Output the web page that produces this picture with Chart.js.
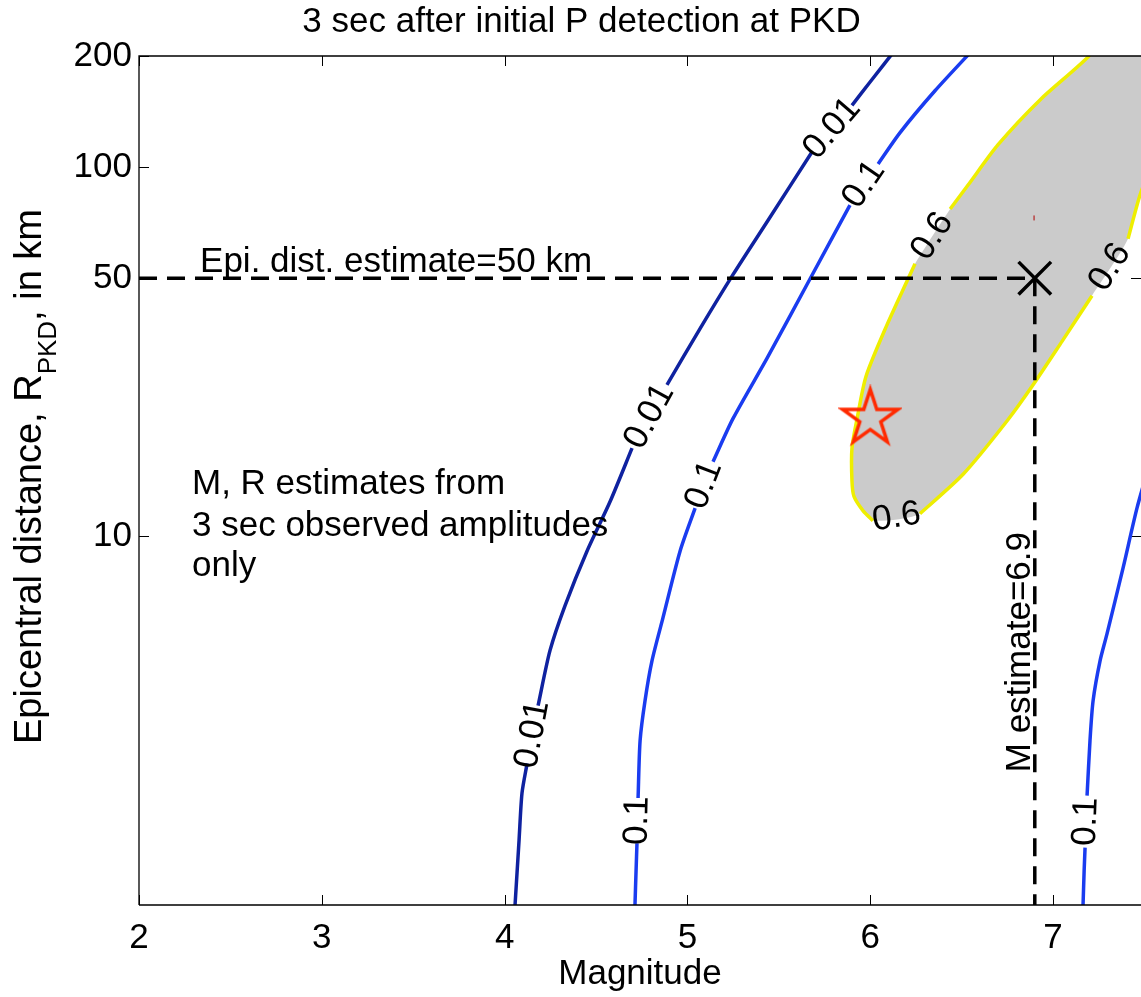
<!DOCTYPE html>
<html>
<head>
<meta charset="utf-8">
<title>3 sec after initial P detection at PKD</title>
<script src="https://cdn.jsdelivr.net/npm/chart.js@4.4.1/dist/chart.umd.min.js"></script>
<style>
  html, body { margin: 0; padding: 0; background: #fff; }
</style>
</head>
<body>
<canvas id="pkdChart" width="1141" height="997"></canvas>
<script>
//#region data
// axis ticks
const magTicks = [2, 3, 4, 5, 6, 7];
const distTicks = [10, 50, 100, 200];

// probability contours, magnitude vs distance (km)
// a null marks the break where MATLAB put the level label
const c001Mag = [4.057, 4.079, 4.095, 4.123, null, 4.183, 4.248, 4.330, 4.451, 4.577, 4.697, null, 4.888, 5.069, 5.249, 5.435, 5.682, null, 5.900, 5.999, 6.150];
const c001Dist = [1.0, 1.50, 2.01, 2.42, null, 3.47, 4.89, 6.47, 9.11, 12.4, 17.3, null, 25.7, 36.5, 51.1, 71.0, 110, null, 147, 170, 212];

const c01Mag = [4.713, 4.719, 4.724, null, 4.730, 4.741, 4.768, 4.806, 4.866, 4.960, 5.042, null, 5.140, 5.249, 5.435, 5.671, 5.889, null, 6.043, 6.163, 6.354, 6.573];
const c01Dist = [1.0, 1.24, 1.47, null, 1.95, 2.79, 3.58, 4.59, 6.00, 9.11, 11.9, null, 15.9, 20.8, 30.3, 49.8, 78.9, null, 102, 124, 161, 211];

// second branch of the 0.1 contour, lower right
const c01bMag = [7.164, 7.170, 7.175, null, 7.186, 7.202, 7.219, 7.257, 7.295, 7.383, 7.459, 7.531];
const c01bDist = [1.0, 1.24, 1.43, null, 1.98, 2.79, 3.58, 4.59, 5.43, 8.20, 11.9, 15.9];

// 0.6 contour (shaded), runs out of the plot at top and right
const c06Mag = [7.312, 7.192, 6.934, 6.699, 6.535, 6.437, null, 6.245, 6.207, 6.092, 5.977, 5.928, 5.900, 5.900, 5.911, 5.961, 6.015, null, 6.272, 6.508, 6.748, 6.891, 7.049, 7.213, null, 7.410, 7.481, 7.613, 7.777, 7.585];
const c06Dist = [239, 199, 153, 115, 89.4, 77.0, null, 54.7, 49.8, 37.4, 27.1, 20.8, 17.3, 14.1, 12.8, 11.7, 11.0, null, 11.5, 14.7, 20.5, 25.7, 33.7, 44.8, null, 63.9, 85.6, 124, 205, 262];

// estimate (X), dashed guides and true event (star)
const estMag = [6.9];
const estDist = [50];
const guideMag = [2, 6.9, 6.9];
const guideDist = [50, 50, 1];
const eventMag = [6.0];
const eventDist = [21.1];
const dotMag = [6.896];
const dotDist = [72.8];

// text notes placed in data coordinates
const noteText = ["Epi. dist. estimate=50 km", "M, R estimates from", "3 sec observed amplitudes", "only", "M estimate=6.9"];
const noteMag = [2.334, 2.29, 2.29, 2.29, 6.873];
const noteDist = [52.0, 13.0, 10.0, 7.8, 2.29];
const noteAngle = [0, 0, 0, 0, -90];
//#endregion

const FONT = '"Liberation Sans", Arial, Helvetica, sans-serif';
const FONT_SIZE = 35;

Chart.defaults.font.family = FONT;
Chart.defaults.color = "#000";

// pair two arrays into {x, y} points, keeping null breaks
function toPoints(mags, dists) {
  return mags.map((m, i) => ({ x: m, y: dists[i] }));
}

// hollow red pentagram used for the true event
function makeStar(size, color) {
  const c = document.createElement("canvas");
  c.width = size;
  c.height = size;
  const g = c.getContext("2d");
  const ro = size / 2 - 3;
  const ri = ro * 0.382;
  g.beginPath();
  for (let i = 0; i < 10; i++) {
    const r = i % 2 ? ri : ro;
    const a = -Math.PI / 2 + (i * Math.PI) / 5;
    g.lineTo(size / 2 + r * Math.cos(a), size / 2 + 2 + r * Math.sin(a));
  }
  g.closePath();
  g.strokeStyle = color;
  g.lineWidth = 3.5;
  g.stroke();
  return c;
}

function contourSet(mags, dists, text, color, width, order) {
  return {
    data: toPoints(mags, dists),
    levelText: text,
    showLine: true,
    borderColor: color,
    borderWidth: width,
    pointRadius: 0,
    tension: 0.25,
    fill: false,
    order: order,
  };
}

//#region decorations plugin
const pkdDecor = {
  id: "pkdDecor",
  beforeDraw(chart) {
    // inward ticks, under the data like MATLAB's bottom layer
    const { ctx, chartArea: a, scales } = chart;
    ctx.save();
    ctx.strokeStyle = "#000";
    ctx.lineWidth = 1;
    ctx.beginPath();
    magTicks.forEach((v) => {
      const px = Math.round(scales.x.getPixelForValue(v)) + 0.5;
      ctx.moveTo(px, a.bottom);
      ctx.lineTo(px, a.bottom - 10);
      ctx.moveTo(px, a.top);
      ctx.lineTo(px, a.top + 10);
    });
    distTicks.forEach((v) => {
      const py = Math.round(scales.y.getPixelForValue(v)) + 0.5;
      ctx.moveTo(a.left, py);
      ctx.lineTo(a.left + 10, py);
      ctx.moveTo(a.right, py);
      ctx.lineTo(a.right - 10, py);
    });
    ctx.stroke();
    ctx.restore();
  },
  afterDatasetsDraw(chart) {
    const { ctx, chartArea: a, scales } = chart;
    const xs = scales.x;
    const ys = scales.y;

    // box lines
    ctx.save();
    ctx.strokeStyle = "#000";
    ctx.lineWidth = 1.3;
    ctx.beginPath();
    ctx.moveTo(a.left, a.bottom);
    ctx.lineTo(a.left, a.top);
    ctx.lineTo(a.right, a.top);
    ctx.moveTo(a.left, a.bottom);
    ctx.lineTo(a.right, a.bottom);
    ctx.stroke();

    // contour level labels, centred in each break and turned along the line
    ctx.font = FONT_SIZE + "px " + FONT;
    ctx.fillStyle = "#000";
    ctx.textAlign = "center";
    ctx.textBaseline = "middle";
    chart.data.datasets.forEach((ds) => {
      if (!ds.levelText) return;
      const pts = ds.data;
      for (let i = 1; i < pts.length - 1; i++) {
        if (pts[i].x !== null) continue;
        const x1 = xs.getPixelForValue(pts[i - 1].x);
        const y1 = ys.getPixelForValue(pts[i - 1].y);
        const x2 = xs.getPixelForValue(pts[i + 1].x);
        const y2 = ys.getPixelForValue(pts[i + 1].y);
        let ang = Math.atan2(y2 - y1, x2 - x1);
        if (ang > Math.PI / 2) ang -= Math.PI;
        if (ang < -Math.PI / 2) ang += Math.PI;
        ctx.save();
        ctx.translate((x1 + x2) / 2, (y1 + y2) / 2);
        ctx.rotate(ang);
        ctx.fillText(ds.levelText, 0, 0);
        ctx.restore();
      }
    });

    // notes
    ctx.textAlign = "left";
    ctx.textBaseline = "alphabetic";
    noteText.forEach((t, i) => {
      ctx.save();
      ctx.translate(xs.getPixelForValue(noteMag[i]), ys.getPixelForValue(noteDist[i]));
      ctx.rotate((noteAngle[i] * Math.PI) / 180);
      ctx.fillText(t, 0, 0);
      ctx.restore();
    });
    ctx.restore();
  },
  afterDraw(chart) {
    // y axis title with the PKD subscript
    const { ctx, chartArea: a } = chart;
    const main = "Epicentral distance, R";
    const sub = "PKD";
    const tail = ", in km";
    ctx.save();
    ctx.fillStyle = "#000";
    ctx.font = "38px " + FONT;
    const w1 = ctx.measureText(main).width;
    const w3 = ctx.measureText(tail).width;
    ctx.font = "26px " + FONT;
    const w2 = ctx.measureText(sub).width;
    const start = -(w1 + w2 + w3) / 2;
    ctx.translate(41, (a.top + a.bottom) / 2 - 4);
    ctx.rotate(-Math.PI / 2);
    ctx.textBaseline = "alphabetic";
    ctx.textAlign = "left";
    ctx.font = "38px " + FONT;
    ctx.fillText(main, start, 0);
    ctx.font = "26px " + FONT;
    ctx.fillText(sub, start + w1, 15);
    ctx.font = "38px " + FONT;
    ctx.fillText(tail, start + w1 + w2, 0);
    ctx.restore();
  },
};
//#endregion

//#region chart
const ctx = document.getElementById("pkdChart").getContext("2d");

new Chart(ctx, {
  type: "scatter",
  data: {
    datasets: [
      // grey area inside the 0.6 contour
      {
        data: toPoints(c06Mag, c06Dist).filter((p) => p.x !== null),
        showLine: true,
        borderWidth: 0,
        borderColor: "rgba(0,0,0,0)",
        pointRadius: 0,
        tension: 0.25,
        fill: "shape",
        backgroundColor: "#cbcbcb",
        order: 10,
      },
      contourSet(c06Mag, c06Dist, "0.6", "#eeee00", 3.5, 9),
      contourSet(c001Mag, c001Dist, "0.01", "#0f22a0", 3.5, 8),
      contourSet(c01Mag, c01Dist, "0.1", "#1a3cf0", 3.5, 8),
      contourSet(c01bMag, c01bDist, "0.1", "#1a3cf0", 3.5, 8),
      // dashed guides to the estimate
      {
        data: toPoints(guideMag, guideDist),
        showLine: true,
        borderColor: "#000",
        borderWidth: 3.5,
        borderDash: [18, 10],
        pointRadius: 0,
        tension: 0,
        order: 5,
      },
      // estimate
      {
        data: toPoints(estMag, estDist),
        pointStyle: "crossRot",
        pointRadius: 23,
        pointBorderColor: "#000",
        pointBorderWidth: 3.5,
        order: 1,
      },
      // true event
      {
        data: toPoints(eventMag, eventDist),
        pointStyle: makeStar(64, "#ff2a00"),
        pointRadius: 10,
        order: 1,
      },
      // small red mark above the estimate
      {
        data: toPoints(dotMag, dotDist),
        pointStyle: "line",
        pointRotation: 90,
        pointRadius: 2.5,
        pointBorderColor: "#b00000",
        pointBorderWidth: 1,
        order: 1,
      },
    ],
  },
  options: {
    responsive: false,
    animation: false,
    layout: { autoPadding: false, padding: { left: 22, right: 0, top: 0, bottom: 0 } },
    elements: { line: { capBezierPoints: false } },
    plugins: {
      legend: { display: false },
      tooltip: { enabled: false },
      title: {
        display: true,
        text: "3 sec after initial P detection at PKD",
        color: "#000",
        font: { size: FONT_SIZE, weight: "normal" },
        padding: { top: 1, bottom: 13 },
      },
    },
    scales: {
      x: {
        type: "linear",
        min: 2,
        max: 7.481,
        afterBuildTicks: (axis) => {
          axis.ticks = magTicks.map((v) => ({ value: v }));
        },
        afterFit: (axis) => {
          // the plot runs to the right edge of the picture
          axis.height = 92;
          axis.paddingLeft = 0;
          axis.paddingRight = 0;
        },
        grid: { display: false, drawTicks: false },
        border: { display: false },
        ticks: {
          autoSkip: false,
          maxRotation: 0,
          padding: 12,
          color: "#000",
          font: { size: FONT_SIZE },
        },
        title: {
          display: true,
          text: "Magnitude",
          color: "#000",
          font: { size: FONT_SIZE },
          padding: { top: 0, bottom: 2 },
        },
      },
      y: {
        type: "logarithmic",
        min: 1,
        max: 200,
        afterBuildTicks: (axis) => {
          axis.ticks = distTicks.map((v) => ({ value: v }));
        },
        afterFit: (axis) => {
          axis.width = 117;
          axis.paddingTop = 0;
          axis.paddingBottom = 0;
        },
        grid: { display: false, drawTicks: false },
        border: { display: false },
        ticks: {
          autoSkip: false,
          padding: 7,
          color: "#000",
          font: { size: FONT_SIZE },
          callback: (v) => String(v),
        },
      },
    },
  },
  plugins: [pkdDecor],
});
//#endregion
</script>
</body>
</html>
